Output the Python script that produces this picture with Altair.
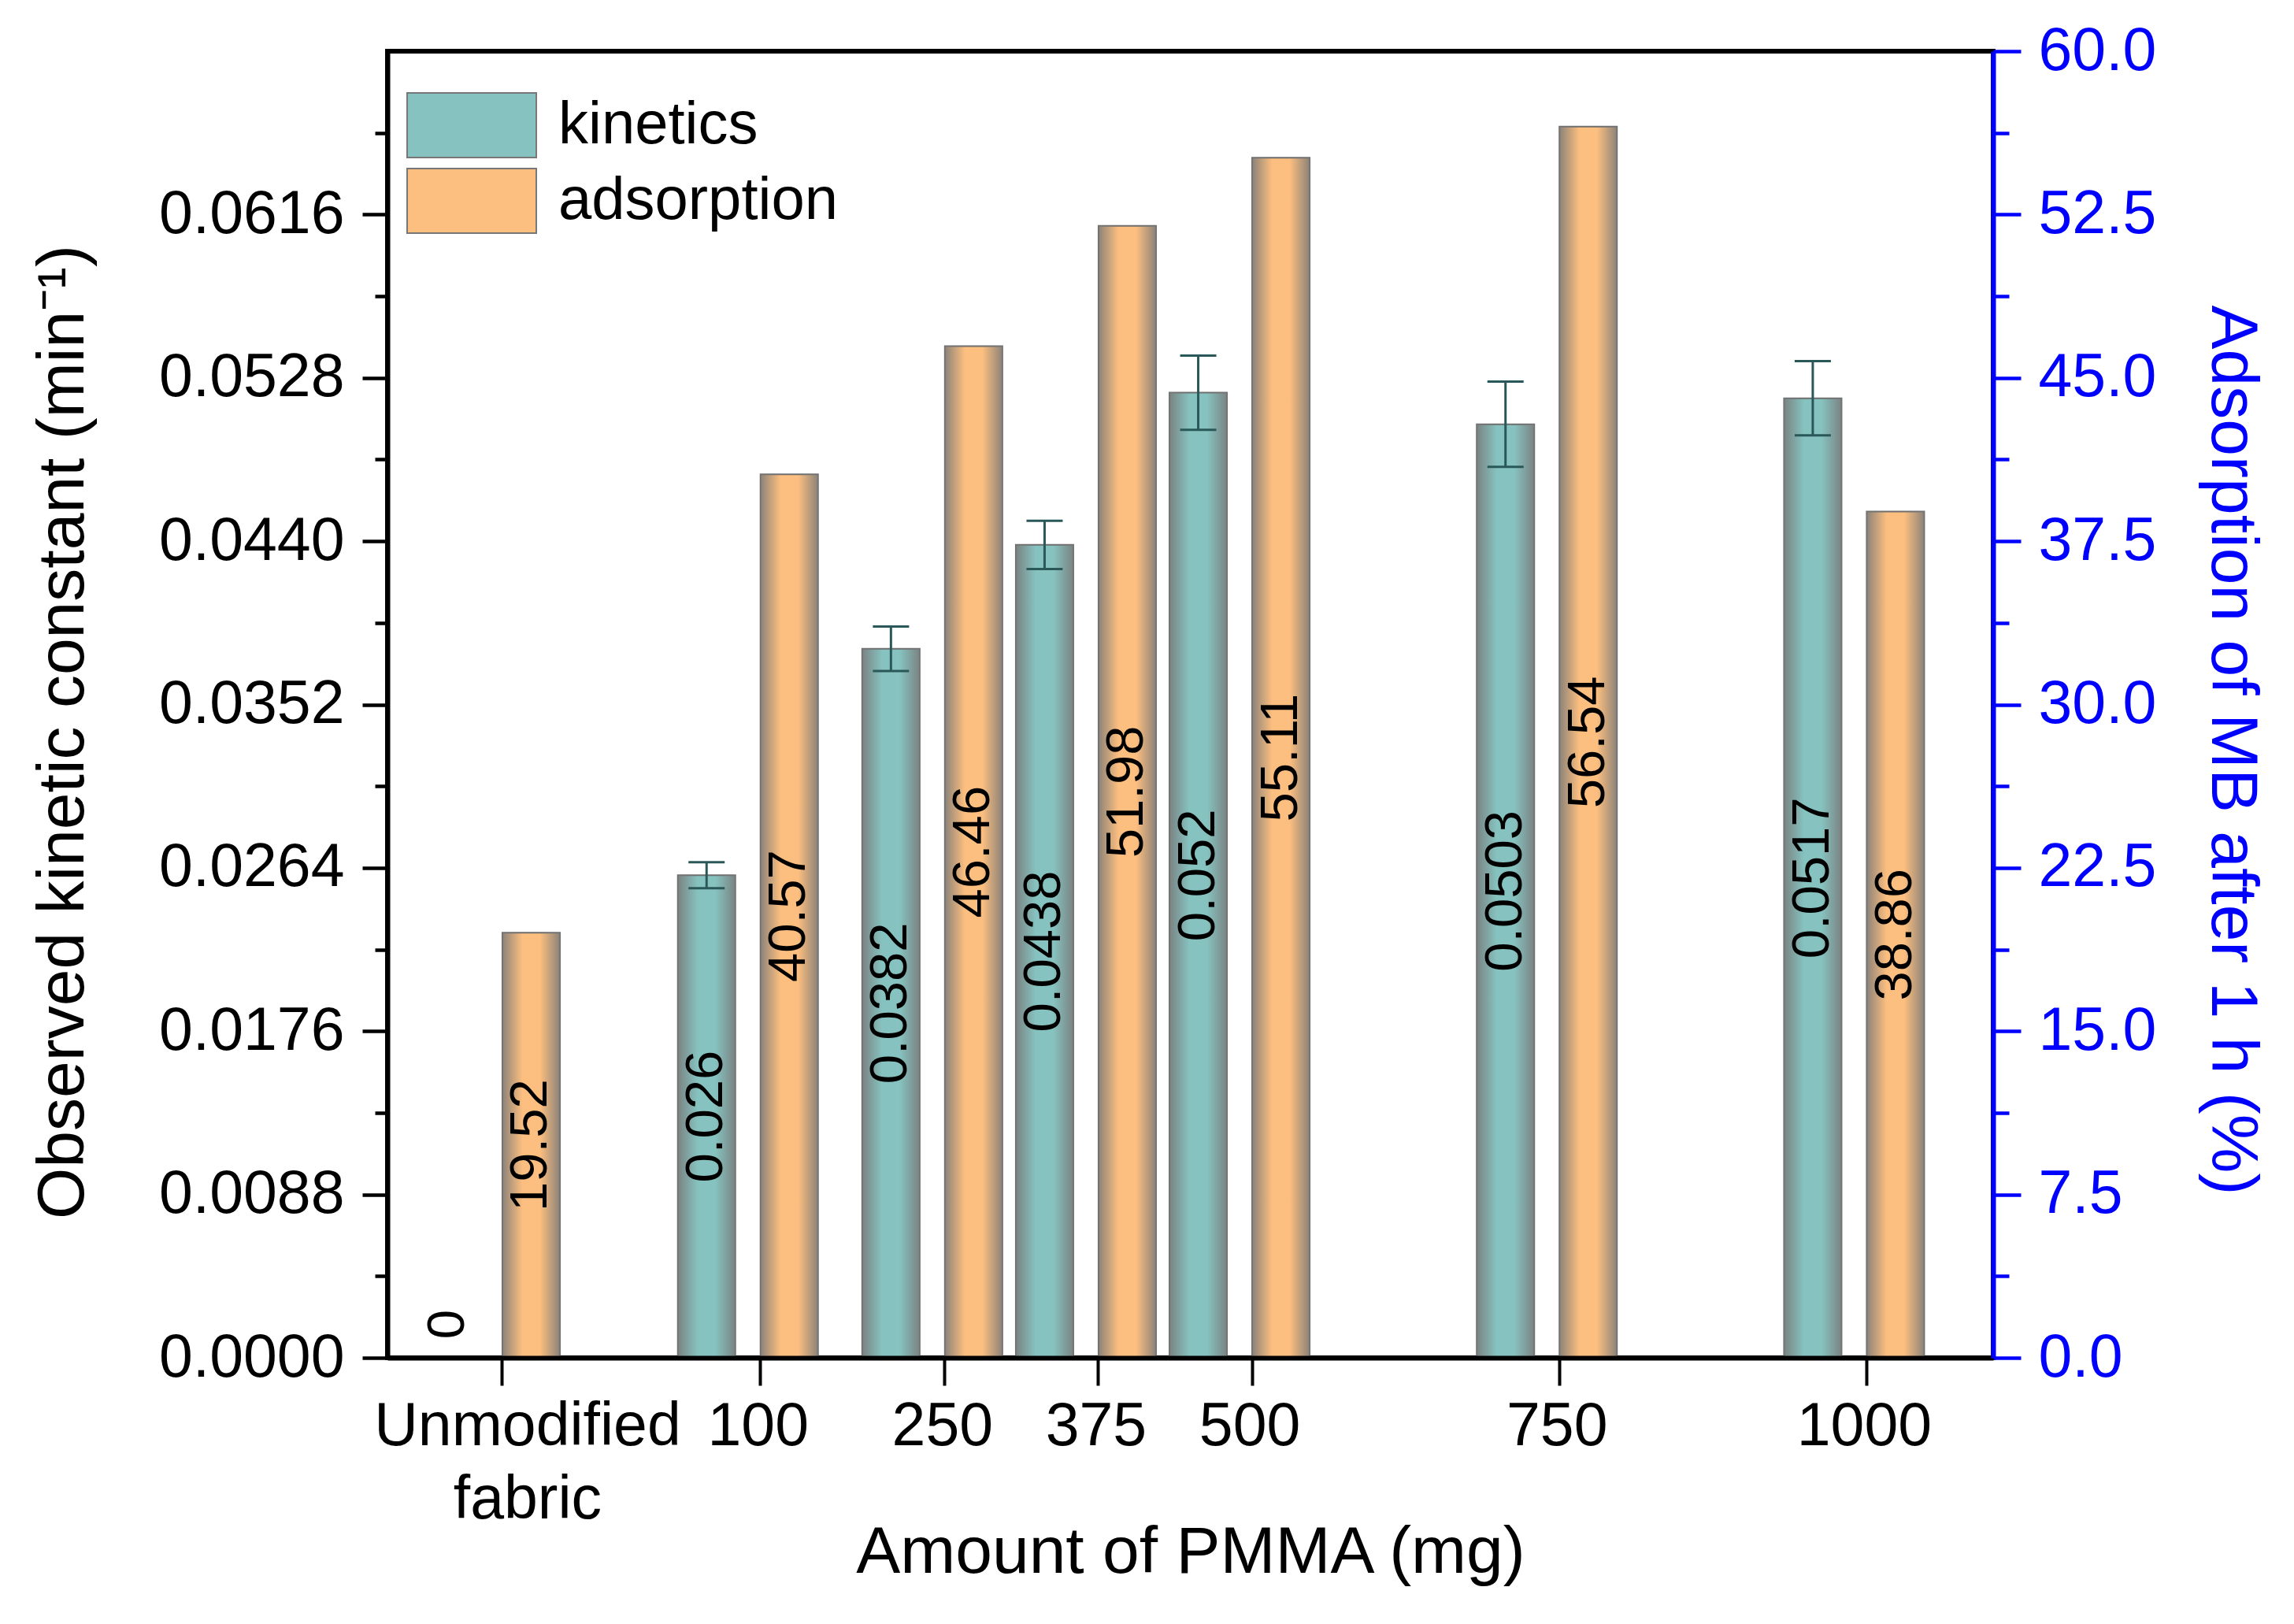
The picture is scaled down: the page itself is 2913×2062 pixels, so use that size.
import altair as alt
import pandas as pd

FONT = "Liberation Sans, Arial, sans-serif"

# data
pmma_pos = [-110, 100, 250, 375, 500, 750, 1000]
kinetics = [0.0, 0.026, 0.0382, 0.0438, 0.052, 0.0503, 0.0517]
kin_err = [0.0, 0.0007, 0.0012, 0.0013, 0.002, 0.0023, 0.002]
adsorption = [19.52, 40.57, 46.46, 51.98, 55.11, 56.54, 38.86]
kin_text = ["0", "0.026", "0.0382", "0.0438", "0.052", "0.0503", "0.0517"]
ads_text = ["19.52", "40.57", "46.46", "51.98", "55.11", "56.54", "38.86"]

df = pd.DataFrame({
    "pmma": pmma_pos,
    "kinetics": kinetics,
    "kin_err": kin_err,
    "adsorption": adsorption,
    "kin_text": kin_text,
    "ads_text": ads_text,
})

W, H = 2039, 1659
BAR_W = 73
KIN_OFF = -68
ADS_OFF = 37
TEAL = "#86c3c0"
ORANGE = "#fdbf7f"
BLUE = "#0000ff"
ERR = "#2a5858"


def shade():
    return alt.LinearGradient(
        gradient="linear", x1=0, x2=1, y1=0, y2=0,
        stops=[
            alt.GradientStop(offset=0, color="rgba(120,120,120,0.85)"),
            alt.GradientStop(offset=0.35, color="rgba(120,120,120,0)"),
            alt.GradientStop(offset=0.65, color="rgba(120,120,120,0)"),
            alt.GradientStop(offset=1, color="rgba(120,120,120,0.85)"),
        ])


legend = alt.Legend(
    title=None, orient="none", legendX=65, legendY=52, padding=0,
    symbolType="M-2,-1H2V1H-2Z", symbolSize=6724,
    symbolStrokeColor="#777777", symbolStrokeWidth=2, symbolOpacity=1,
    labelFont=FONT, labelFontSize=76, labelColor="black", labelOffset=68,
    labelLimit=1000, rowPadding=6,
)
color = alt.Color("series:N", legend=legend,
                  scale=alt.Scale(domain=["kinetics", "adsorption"], range=[TEAL, ORANGE]))

x_axis = alt.Axis(
    title="Amount of PMMA (mg)", values=pmma_pos, format="d",
    labelExpr="datum.value < 0 ? ['Unmodified', 'fabric'] : datum.label",
    labelOffset={"expr": "datum.value < 0 ? 32 : -3"},
    labelFont=FONT, labelFontSize=77, labelColor="black", labelLineHeight=93,
    labelPadding=14, labelFlush=False, labelOverlap=False, labelLimit=1000,
    titleFont=FONT, titleFontSize=84, titleFontWeight="normal", titleColor="black",
    titlePadding=6, tickSize=35, tickWidth=4, tickColor="black",
    domainColor="black", domainWidth=6, grid=False, zindex=1,
)
x = alt.X("pmma:Q", axis=x_axis,
          scale=alt.Scale(domain=[-200, 1100], nice=False, zero=False))

minor_l = "abs(datum.value/0.0088 - round(datum.value/0.0088)) > 0.01"
left_axis = alt.Axis(
    title="Observed kinetic constant (min\u207b\u00b9)",
    values=[round(i * 0.0044, 4) for i in range(16)],
    labelExpr=minor_l + " ? '' : format(datum.value, '.4f')",
    tickSize={"expr": minor_l + " ? 16 : 32"},
    labelFont=FONT, labelFontSize=77, labelColor="black", labelPadding=23,
    labelLimit=1000,
    titleFont=FONT, titleFontSize=84, titleFontWeight="normal", titleColor="black",
    titlePadding=169, titleY=864, tickWidth=4.5, tickColor="black",
    domainColor="black", domainWidth=6, grid=False, zindex=1,
)
kin_scale = alt.Scale(domain=[0, 0.0704], nice=False, zero=True)

minor_r = "abs(datum.value/7.5 - round(datum.value/7.5)) > 0.01"
right_axis = alt.Axis(
    title="Adsorption of MB after 1 h (%)", orient="right",
    values=[i * 3.75 for i in range(17)],
    labelExpr=minor_r + " ? '' : format(datum.value, '.1f')",
    tickSize={"expr": minor_r + " ? 20 : 35"},
    labelFont=FONT, labelFontSize=77, labelColor=BLUE, labelPadding=22,
    labelLimit=1000,
    titleFont=FONT, titleFontSize=84, titleFontWeight="normal", titleColor=BLUE,
    titlePadding=59, titleY=887, tickWidth=4.5, tickColor=BLUE,
    domainColor=BLUE, domainWidth=6, grid=False, zindex=1,
)
ads_scale = alt.Scale(domain=[0, 60], nice=False, zero=True)

base = alt.Chart(df)

# kinetics (left axis)
kin_bars = base.transform_calculate(series="'kinetics'").mark_bar(
    size=BAR_W, xOffset=KIN_OFF, stroke="#6e6e6e", strokeWidth=2
).encode(x=x, y=alt.Y("kinetics:Q", scale=kin_scale, axis=left_axis), color=color)

kin_shade = base.mark_bar(size=BAR_W, xOffset=KIN_OFF, fill=shade(), strokeWidth=0).encode(
    x=x, y=alt.Y("kinetics:Q", scale=kin_scale, axis=left_axis))

err = base.transform_filter("datum.kin_err > 0").transform_calculate(
    lo="datum.kinetics - datum.kin_err", hi="datum.kinetics + datum.kin_err")
err_rule = err.mark_rule(xOffset=KIN_OFF, color=ERR, strokeWidth=3).encode(
    x=x, y=alt.Y("lo:Q", scale=kin_scale, axis=left_axis), y2="hi:Q")
err_lo = err.mark_tick(orient="horizontal", size=46, thickness=3, xOffset=KIN_OFF,
                       color=ERR, opacity=1).encode(
    x=x, y=alt.Y("lo:Q", scale=kin_scale, axis=left_axis))
err_hi = err.mark_tick(orient="horizontal", size=46, thickness=3, xOffset=KIN_OFF,
                       color=ERR, opacity=1).encode(
    x=x, y=alt.Y("hi:Q", scale=kin_scale, axis=left_axis))

kin_lbl = base.transform_calculate(mid="max(datum.kinetics / 2, 0.0018)").mark_text(
    angle=270, align="center", baseline="middle", xOffset=KIN_OFF,
    font=FONT, fontSize=67, color="black"
).encode(x=x, y=alt.Y("mid:Q", scale=kin_scale, axis=left_axis), text="kin_text:N")

left = alt.layer(kin_bars, kin_shade, err_rule, err_lo, err_hi, kin_lbl)

# adsorption (right axis)
ads_bars = base.transform_calculate(series="'adsorption'").mark_bar(
    size=BAR_W, xOffset=ADS_OFF, stroke="#6e6e6e", strokeWidth=2
).encode(x=x, y=alt.Y("adsorption:Q", scale=ads_scale, axis=right_axis), color=color)

ads_shade = base.mark_bar(size=BAR_W, xOffset=ADS_OFF, fill=shade(), strokeWidth=0).encode(
    x=x, y=alt.Y("adsorption:Q", scale=ads_scale, axis=right_axis))

ads_lbl = base.transform_calculate(mid="datum.adsorption / 2").mark_text(
    angle=270, align="center", baseline="middle", xOffset=ADS_OFF,
    font=FONT, fontSize=67, color="black"
).encode(x=x, y=alt.Y("mid:Q", scale=ads_scale, axis=right_axis), text="ads_text:N")

right = alt.layer(ads_bars, ads_shade, ads_lbl)

chart = alt.layer(left, right).resolve_scale(y="independent").properties(
    width=W, height=H, background="white",
    autosize=alt.AutoSizeParams(type="none"),
    padding={"left": 484, "top": 57, "right": 360, "bottom": 310},
).configure_view(stroke="black", strokeWidth=6)

chart.save("out.html", embed_options={"renderer": "svg", "actions": False})
